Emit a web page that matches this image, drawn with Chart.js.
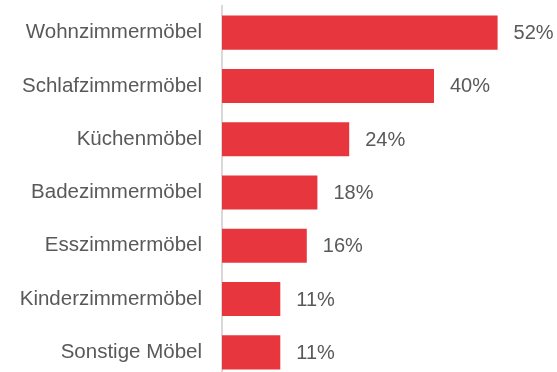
<!DOCTYPE html>
<html>
<head>
<meta charset="utf-8">
<script src="https://cdn.jsdelivr.net/npm/chart.js@4"></script>
<style>
  html, body { margin: 0; padding: 0; background: #fff; overflow: hidden; }
  canvas { display: block; }
</style>
</head>
<body>
<canvas id="furnitureChart" width="557" height="379"></canvas>
<script>
const categories = [
  "Wohnzimmermöbel",
  "Schlafzimmermöbel",
  "Küchenmöbel",
  "Badezimmermöbel",
  "Esszimmermöbel",
  "Kinderzimmermöbel",
  "Sonstige Möbel"
];
const shares = [52, 40, 24, 18, 16, 11, 11];

const barColor = "#E8363F";
const textColor = "#595959";
const fontFamily = "'Liberation Sans', Arial, sans-serif";

// writes "52%" etc. just right of each bar
const valueLabels = {
  id: "valueLabels",
  afterDatasetsDraw(chart) {
    const ctx = chart.ctx;
    const meta = chart.getDatasetMeta(0);
    ctx.save();
    ctx.font = "20px " + fontFamily;
    ctx.fillStyle = textColor;
    ctx.textAlign = "left";
    ctx.textBaseline = "middle";
    meta.data.forEach((bar, i) => {
      ctx.fillText(shares[i] + "%", bar.x + 16, bar.y + 1);
    });
    ctx.restore();
  }
};

function renderChart() {
  const ctx = document.getElementById("furnitureChart").getContext("2d");
  new Chart(ctx, {
    type: "bar",
    data: {
      labels: categories,
      datasets: [{
        data: shares,
        backgroundColor: barColor,
        categoryPercentage: 0.64,
        barPercentage: 1
      }]
    },
    options: {
      indexAxis: "y",
      responsive: false,
      animation: false,
      layout: { padding: { top: 6, right: 17, bottom: 0, left: 0 } },
      plugins: {
        legend: { display: false },
        tooltip: { enabled: false }
      },
      scales: {
        x: {
          display: false,
          min: 0,
          max: 60
        },
        y: {
          afterFit: scale => {
            scale.width = 222;
            scale.paddingTop = 0;
            scale.paddingBottom = 0;
          },
          grid: { display: false, drawTicks: false },
          border: { display: true, color: "#D9D9D9", width: 2 },
          ticks: {
            padding: 20,
            color: textColor,
            font: { size: 20.5, family: fontFamily }
          }
        }
      }
    },
    plugins: [valueLabels]
  });
}

window.onload = renderChart;
</script>
</body>
</html>
